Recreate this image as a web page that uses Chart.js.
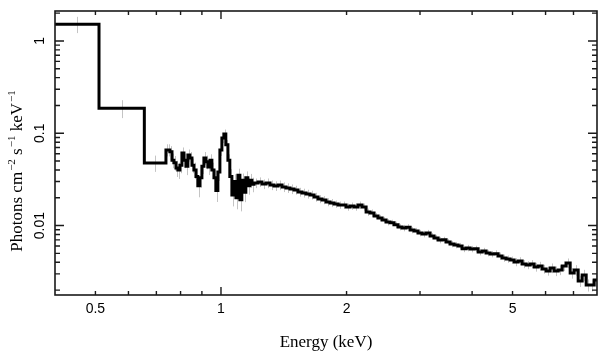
<!DOCTYPE html>
<html><head><meta charset="utf-8">
<script src="https://cdn.jsdelivr.net/npm/chart.js@4"></script>
<style>html,body{margin:0;padding:0;background:#fff}</style>
</head><body>
<canvas id="c" width="609" height="357"></canvas>
<script>
// ---- data (bin edges in keV, flux per bin) ----
const binEdges = [
  0.40, 0.51, 0.655,
  0.738, 0.746, 0.754, 0.763, 0.771, 0.780, 0.788, 0.797, 0.806, 0.815,
  0.824, 0.833, 0.842, 0.852, 0.861, 0.871, 0.880, 0.890, 0.900, 0.910,
  0.920, 0.930, 0.941, 0.951, 0.962, 0.972, 0.983, 0.994, 1.005, 1.016,
  1.027, 1.039, 1.050, 1.062, 1.074, 1.086, 1.098, 1.110, 1.122, 1.135,
  1.147, 1.160, 1.173, 1.186,
  1.200, 1.227, 1.254, 1.282, 1.311, 1.340, 1.370, 1.401, 1.432, 1.464,
  1.497, 1.530, 1.564, 1.599, 1.635, 1.672, 1.709, 1.747, 1.786, 1.826,
  1.867, 1.909, 1.951, 1.995, 2.039, 2.085, 2.131, 2.179, 2.228, 2.277,
  2.328, 2.380, 2.434, 2.488, 2.543, 2.600, 2.658, 2.718, 2.778, 2.841,
  2.904, 2.969, 3.035, 3.103, 3.172, 3.243, 3.316, 3.390, 3.465, 3.543,
  3.622, 3.703, 3.785, 3.870, 3.956, 4.045, 4.135, 4.228, 4.322, 4.418,
  4.517, 4.618, 4.721, 4.827, 4.934, 5.045, 5.157, 5.273, 5.390, 5.511,
  5.634, 5.760, 5.888, 6.020, 6.154, 6.292, 6.432, 6.576, 6.723, 6.873,
  7.026, 7.183, 7.344, 7.508, 7.675, 7.847, 7.97
];
const photonFlux = [
  1.52, 0.187, 0.0477,
  0.066, 0.066, 0.063, 0.051, 0.048, 0.042, 0.040, 0.045, 0.061, 0.051,
  0.044, 0.058, 0.054, 0.045, 0.040, 0.034, 0.027, 0.033, 0.044, 0.054,
  0.049, 0.043, 0.051, 0.040, 0.033, 0.024, 0.038, 0.066, 0.089, 0.098,
  0.075, 0.051, 0.034, 0.0215, 0.030, 0.020, 0.035, 0.019, 0.031, 0.023,
  0.033, 0.027, 0.031, 0.028,
  0.0289, 0.0297, 0.0282, 0.0289, 0.0275, 0.0269, 0.0275, 0.0262, 0.0256, 0.0249,
  0.0243, 0.0231, 0.0226, 0.0220, 0.0215, 0.0204, 0.0194, 0.0189, 0.0180, 0.0176,
  0.0171, 0.0167, 0.0167, 0.0159, 0.0163, 0.0159, 0.0167, 0.0159, 0.0140, 0.0137,
  0.0127, 0.0121, 0.0115, 0.0109, 0.0107, 0.0102, 0.00966, 0.00942, 0.00960, 0.00896,
  0.00874, 0.00831, 0.00811, 0.00831, 0.00771, 0.00734, 0.00698, 0.00700, 0.00664, 0.00632,
  0.00616, 0.00601, 0.00560, 0.00572, 0.00558, 0.00560, 0.00517, 0.00531, 0.00505, 0.00492,
  0.00495, 0.00468, 0.00445, 0.00434, 0.00424, 0.00403, 0.00413, 0.00384, 0.00374, 0.00384,
  0.00356, 0.00365, 0.00339, 0.00322, 0.00347, 0.00322, 0.00330, 0.00365, 0.00393, 0.00306,
  0.00330, 0.00251, 0.00291, 0.00227, 0.00227, 0.00257
];
const fluxErrFrac = [
  0.20, 0.22, 0.20,
  0.15, 0.15, 0.15, 0.18, 0.18, 0.20, 0.20, 0.18, 0.15, 0.18,
  0.20, 0.15, 0.16, 0.18, 0.20, 0.22, 0.25, 0.22, 0.18, 0.16,
  0.17, 0.18, 0.16, 0.20, 0.22, 0.25, 0.20, 0.14, 0.12, 0.12,
  0.13, 0.16, 0.20, 0.25, 0.20, 0.25, 0.18, 0.25, 0.18, 0.22,
  0.17, 0.20, 0.17, 0.18,
  0.12, 0.12, 0.12, 0.12, 0.12, 0.12, 0.12, 0.12, 0.12, 0.12,
  0.11, 0.11, 0.11, 0.11, 0.11, 0.11, 0.10, 0.10, 0.10, 0.10,
  0.09, 0.09, 0.09, 0.09, 0.09, 0.09, 0.09, 0.09, 0.09, 0.09,
  0.08, 0.08, 0.08, 0.08, 0.08, 0.08, 0.08, 0.08, 0.08, 0.08,
  0.08, 0.08, 0.08, 0.08, 0.08, 0.08, 0.08, 0.08, 0.08, 0.08,
  0.08, 0.08, 0.08, 0.08, 0.08, 0.08, 0.08, 0.08, 0.08, 0.08,
  0.09, 0.09, 0.09, 0.09, 0.09, 0.10, 0.10, 0.10, 0.10, 0.10,
  0.11, 0.11, 0.11, 0.11, 0.12, 0.12, 0.12, 0.12, 0.12, 0.13,
  0.13, 0.14, 0.14, 0.15, 0.15, 0.15
];
const xTickLabels = [0.5, 1, 2, 5];
const yTickLabels = [0.01, 0.1, 1];
const xRange = [0.4, 7.97];
const yRange = [0.00177, 2.11];
const xTitle = 'Energy (keV)';
// y title pieces: [text, isSuperscript]
const yTitleParts = [['Photons cm', false], ['\u22122', true], [' s', false], ['\u22121', true], [' keV', false], ['\u22121', true]];

// ---- build step-histogram points ----
const nBins = Math.min(photonFlux.length, binEdges.length - 1);
const stepPoints = [];
for (let i = 0; i < nBins; i++) stepPoints.push({x: binEdges[i], y: photonFlux[i]});
stepPoints.push({x: binEdges[nBins], y: photonFlux[nBins - 1]});

function logTicks(min, max) {
  const out = [];
  for (let e = Math.floor(Math.log10(min)); e <= Math.ceil(Math.log10(max)); e++) {
    for (let m = 1; m <= 9; m++) {
      const v = Number((m * Math.pow(10, e)).toPrecision(8));
      if (v >= min * 0.99999 && v <= max * 1.00001) out.push({value: v});
    }
  }
  return out;
}
function matchLabel(list, v) {
  const hit = list.find(l => Math.abs(l / v - 1) < 1e-6);
  return hit === undefined ? '' : String(hit);
}
function isDecade(v) {
  const l = Math.log10(v);
  return Math.abs(l - Math.round(l)) < 1e-6;
}

const errorBars = {
  id: 'errorBars',
  beforeDatasetsDraw(chart) {
    const {ctx, chartArea: a, scales: {x, y}} = chart;
    ctx.save();
    ctx.beginPath(); ctx.rect(a.left, a.top, a.right - a.left, a.bottom - a.top); ctx.clip();
    ctx.strokeStyle = '#c4c4c4'; ctx.lineWidth = 1;
    for (let i = 0; i < nBins; i++) {
      const c = Math.sqrt(binEdges[i] * binEdges[i + 1]);
      const f = fluxErrFrac[i] || 0;
      const px = Math.round(x.getPixelForValue(c)) + 0.5;
      ctx.beginPath();
      ctx.moveTo(px, y.getPixelForValue(photonFlux[i] * (1 + f)));
      ctx.lineTo(px, y.getPixelForValue(photonFlux[i] * (1 - f)));
      ctx.stroke();
    }
    ctx.restore();
  }
};

const frameTicks = {
  id: 'frameTicks',
  afterDraw(chart) {
    const {ctx, chartArea: a, scales: {x, y}} = chart;
    ctx.save();
    ctx.strokeStyle = '#1a1a1a'; ctx.lineWidth = 1.6;
    ctx.strokeRect(a.left, a.top, a.right - a.left, a.bottom - a.top);
    ctx.lineWidth = 1.4;
    x.ticks.forEach(t => {
      const px = x.getPixelForValue(t.value);
      if (px < a.left + 1 || px > a.right - 1) return;
      const len = isDecade(t.value) ? 8 : 4;
      ctx.beginPath();
      ctx.moveTo(px, a.bottom); ctx.lineTo(px, a.bottom - len);
      ctx.moveTo(px, a.top); ctx.lineTo(px, a.top + len);
      ctx.stroke();
    });
    y.ticks.forEach(t => {
      const py = y.getPixelForValue(t.value);
      if (py < a.top + 1 || py > a.bottom - 1) return;
      const len = isDecade(t.value) ? 9 : 5;
      ctx.beginPath();
      ctx.moveTo(a.left, py); ctx.lineTo(a.left + len, py);
      ctx.moveTo(a.right, py); ctx.lineTo(a.right - len, py);
      ctx.stroke();
    });
    ctx.restore();

    // y-axis title with real superscripts, rotated
    const base = 17, sup = 11;
    const mainFont = base + 'px "Liberation Serif"';
    const supFont = sup + 'px "Liberation Serif"';
    ctx.save();
    let total = 0;
    yTitleParts.forEach(([t, s]) => { ctx.font = s ? supFont : mainFont; total += ctx.measureText(t).width + (s ? 1 : 0); });
    ctx.translate(18, 171);
    ctx.rotate(-Math.PI / 2);
    ctx.fillStyle = '#000';
    ctx.textBaseline = 'middle';
    ctx.textAlign = 'left';
    let pos = -total / 2;
    yTitleParts.forEach(([t, s]) => {
      ctx.font = s ? supFont : mainFont;
      if (s) pos += 1;
      ctx.fillText(t, pos, s ? -6 : 0);
      pos += ctx.measureText(t).width;
    });
    ctx.restore();
  }
};

new Chart(document.getElementById('c'), {
  type: 'line',
  data: {
    datasets: [{
      label: 'Spectrum',
      data: stepPoints,
      stepped: 'before',
      borderColor: '#000',
      borderWidth: 3,
      pointRadius: 0,
      fill: false,
      tension: 0
    }]
  },
  options: {
    responsive: false,
    devicePixelRatio: 1,
    animation: false,
    layout: {padding: {top: 11, right: 12, left: 0, bottom: 0}},
    plugins: {legend: {display: false}, tooltip: {enabled: false}},
    scales: {
      x: {
        type: 'logarithmic',
        min: xRange[0], max: xRange[1],
        grid: {display: false, drawTicks: false},
        border: {display: false},
        afterBuildTicks: s => { s.ticks = logTicks(xRange[0], xRange[1]); },
        afterFit: s => { s.height = 62; },
        ticks: {
          autoSkip: false, maxRotation: 0, minRotation: 0, padding: 6,
          color: '#000',
          font: {family: 'Liberation Sans', size: 14},
          callback: v => matchLabel(xTickLabels, v)
        },
        title: {
          display: true, text: xTitle, color: '#000',
          font: {family: 'Liberation Serif', size: 17},
          padding: {top: 0, bottom: 4}
        }
      },
      y: {
        type: 'logarithmic',
        min: yRange[0], max: yRange[1],
        grid: {display: false, drawTicks: false},
        border: {display: false},
        afterBuildTicks: s => { s.ticks = logTicks(yRange[0], yRange[1]); },
        afterFit: s => { s.width = 55; },
        ticks: {
          autoSkip: false, minRotation: 90, maxRotation: 90, crossAlign: 'center', padding: 1,
          color: '#000',
          font: {family: 'Liberation Sans', size: 14},
          callback: v => matchLabel(yTickLabels, v)
        },
        title: {display: false}
      }
    }
  },
  plugins: [errorBars, frameTicks]
});
</script>
</body></html>
